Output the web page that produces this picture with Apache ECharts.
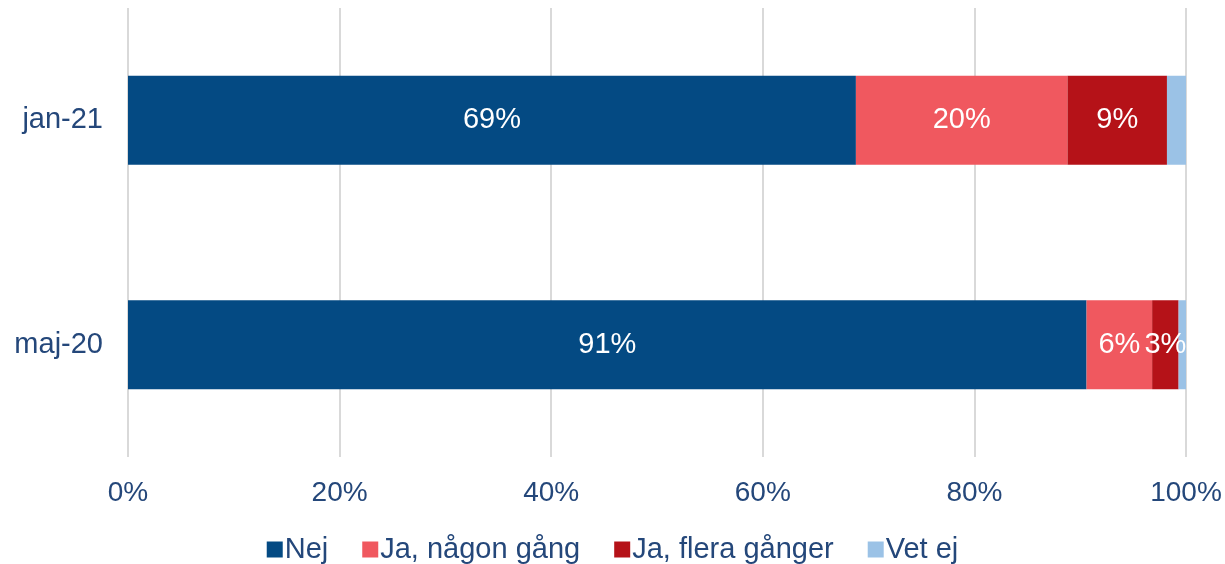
<!DOCTYPE html>
<html><head><meta charset="utf-8">
<script src="https://cdn.jsdelivr.net/npm/echarts@6/dist/echarts.min.js"></script>
<style>html,body{margin:0;padding:0;background:#fff}#c{width:1225px;height:564px}</style>
</head><body><div id="c"></div>
<script>
const categories = ['maj-20', 'jan-21'];
const seriesNames = ['Nej', 'Ja, någon gång', 'Ja, flera gånger', 'Vet ej'];
const nej = [90.6, 68.8];
const jaNagon = [6.2, 20.0];
const jaFlera = [2.5, 9.4];
const vetEj = [0.7, 1.8];
const xTicks = [0, 20, 40, 60, 80, 100];
const colors = ['#044A83', '#F0585F', '#B51218', '#9BC2E6'];
const values = [nej, jaNagon, jaFlera, vetEj];
const txt = '#24477A';
const chart = echarts.init(document.getElementById('c'));
chart.setOption({
  animation: false,
  textStyle: { fontFamily: 'Liberation Sans, Arial, sans-serif' },
  grid: { left: 128, right: 39, top: 8, bottom: 107 },
  xAxis: {
    type: 'value', min: xTicks[0], max: xTicks[xTicks.length - 1], interval: 20,
    axisLine: { show: false }, axisTick: { show: false },
    splitLine: { lineStyle: { color: '#D9D9D9', width: 2 } },
    axisLabel: { formatter: v => v + '%', color: txt, fontSize: 28, margin: 22 }
  },
  yAxis: {
    type: 'category', data: categories,
    axisLine: { show: false }, axisTick: { show: false },
    axisLabel: { color: txt, fontSize: 29, margin: 25 }
  },
  legend: {
    top: 530, left: 'center', itemWidth: 16, itemHeight: 16, itemGap: 34,
    icon: 'rect',
    textStyle: { color: txt, fontSize: 29, padding: [0, 0, 0, -3] },
    data: seriesNames
  },
  series: seriesNames.map((n, i) => ({
    name: n, type: 'bar', stack: 'a', barWidth: 89,
    data: values[i],
    itemStyle: { color: colors[i] },
    label: {
      show: i < 3, position: 'inside', color: '#fff', fontSize: 29,
      formatter: p => Math.round(p.value) + '%'
    }
  }))
});
</script></body></html>
